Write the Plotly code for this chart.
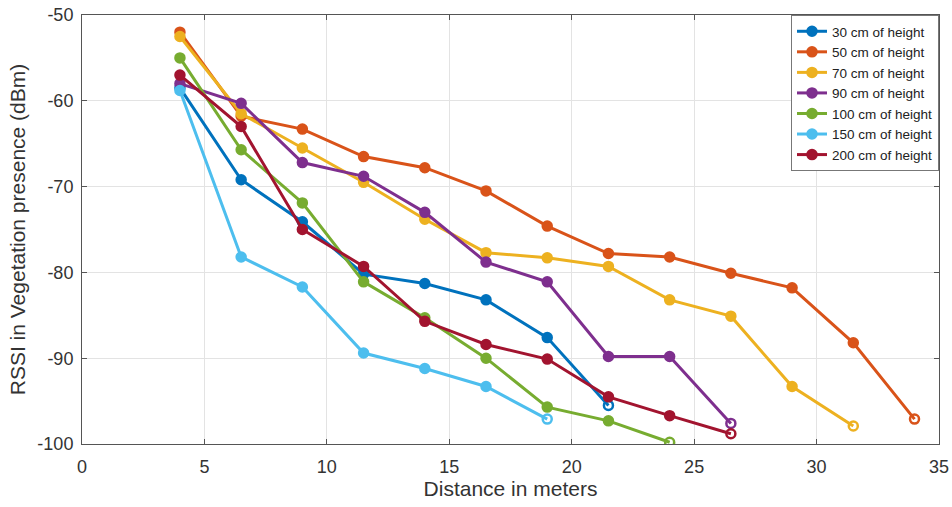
import plotly.graph_objects as go

x_all = [4, 6.5, 9, 11.5, 14, 16.5, 19, 21.5, 24, 26.5, 29, 31.5, 34]

names = ["30 cm of height", "50 cm of height", "70 cm of height", "90 cm of height",
         "100 cm of height", "150 cm of height", "200 cm of height"]

rssi_30 = [-58.5, -69.2, -74.1, -80.2, -81.3, -83.2, -87.6, -95.5]
rssi_50 = [-52.0, -61.8, -63.3, -66.5, -67.8, -70.5, -74.6, -77.8, -78.2, -80.1, -81.8, -88.2, -97.1]
rssi_70 = [-52.5, -61.5, -65.5, -69.5, -73.8, -77.7, -78.3, -79.3, -83.2, -85.1, -93.3, -97.9]
rssi_90 = [-58.0, -60.3, -67.2, -68.8, -73.0, -78.8, -81.1, -89.8, -89.8, -97.6]
rssi_100 = [-55.0, -65.7, -71.9, -81.1, -85.3, -90.0, -95.7, -97.3, -99.8]
rssi_150 = [-58.8, -78.2, -81.7, -89.4, -91.2, -93.3, -97.1]
rssi_200 = [-57.0, -63.0, -75.0, -79.3, -85.7, -88.4, -90.1, -94.5, -96.7, -98.8]

x_ticks = [0, 5, 10, 15, 20, 25, 30, 35]
x_ticklabels = ["0", "5", "10", "15", "20", "25", "30", "35"]
y_ticks = [-100, -90, -80, -70, -60, -50]
y_ticklabels = ["-100", "-90", "-80", "-70", "-60", "-50"]

series = [rssi_30, rssi_50, rssi_70, rssi_90, rssi_100, rssi_150, rssi_200]
colors = ["#0072BD", "#D95319", "#EDB120", "#7E2F8E", "#77AC30", "#4DBEEE", "#A2142F"]

fig = go.Figure()
for name, ys, c in zip(names, series, colors):
    xs = x_all[:len(ys)]
    symbols = ["circle"] * (len(ys) - 1) + ["circle-open"]
    fig.add_trace(go.Scatter(
        x=xs, y=ys, name=name, mode="lines+markers",
        line=dict(color=c, width=3),
        marker=dict(color=c, size=9, symbol=symbols, line=dict(color=c, width=2.5)),
    ))

FONT = "Liberation Sans, Arial, sans-serif"
axis_common = dict(
    showline=True, linecolor="#555555", linewidth=1, mirror="ticks",
    ticks="inside", ticklen=5, tickcolor="#555555",
    showgrid=True, gridcolor="#e3e3e3", gridwidth=1, zeroline=False,
    tickfont=dict(family=FONT, size=18, color="#333333"),
    automargin=False, ticklabeloverflow="allow",
)

fig.update_layout(
    width=952, height=507,
    margin=dict(l=82, r=13, t=15, b=63),
    paper_bgcolor="white", plot_bgcolor="white",
    font=dict(family=FONT, color="#333333"),
    xaxis=dict(range=[0, 35], tickvals=x_ticks, ticktext=x_ticklabels,
               ticklabelstandoff=6,
               title=dict(text="Distance in meters", font=dict(size=21), standoff=2),
               **axis_common),
    yaxis=dict(range=[-100, -50], tickvals=y_ticks, ticktext=y_ticklabels,
               ticklabelstandoff=4,
               title=dict(text="RSSI in Vegetation presence (dBm)", font=dict(size=21), standoff=6),
               **axis_common),
    legend=dict(x=1, y=1, xanchor="right", yanchor="top",
                bgcolor="white", bordercolor="#777777", borderwidth=1,
                font=dict(family=FONT, size=13.5, color="#222222"),
                tracegroupgap=0),
    showlegend=True,
)

fig.write_html("out.html",
               config={"displayModeBar": False},
               post_script="document.body.style.margin='0';document.body.style.overflow='hidden';")
